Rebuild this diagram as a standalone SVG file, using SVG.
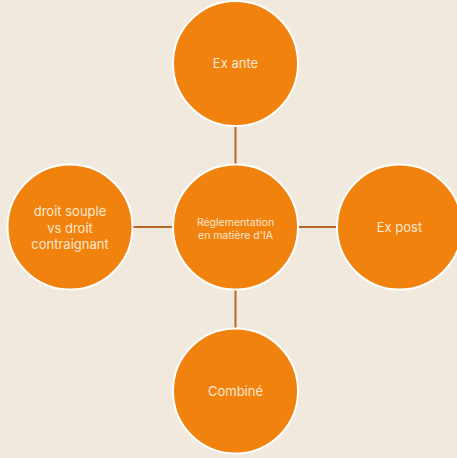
<svg xmlns="http://www.w3.org/2000/svg" width="457" height="458" viewBox="0 0 457 458">
<style>
.n{fill:#F0820D;stroke:#FFFFFF;stroke-width:2}
.t{fill:#FCE8D2;font-family:Inter,"Liberation Sans",sans-serif;font-size:13px;text-anchor:middle}
.s{font-size:10.5px}
.c{stroke:#B8672A;stroke-width:2;fill:none}
</style>
<rect width="457" height="458" fill="#F2E9DE"/>
<g id="connectors">
<line class="c" x1="235.5" y1="126" x2="235.5" y2="164.5"/>
<line class="c" x1="235.5" y1="289.5" x2="235.5" y2="328.5"/>
<line class="c" x1="132.5" y1="227" x2="173" y2="227"/>
<line class="c" x1="298" y1="227" x2="337" y2="227"/>
</g>
<g id="center">
<circle class="n" cx="235.5" cy="227" r="62.5"/>
<text class="t s" x="235.5" y="225.5">Réglementation</text>
<text class="t s" x="235.5" y="239">en matière d'IA</text>
</g>
<g id="top">
<circle class="n" cx="235.5" cy="63.5" r="62.5"/>
<text class="t" x="235.5" y="68">Ex ante</text>
</g>
<g id="bottom">
<circle class="n" cx="235.5" cy="391" r="62.5"/>
<text class="t" x="235.5" y="395.5">Combiné</text>
</g>
<g id="left">
<circle class="n" cx="70" cy="227" r="62.5"/>
<text class="t" x="70" y="216">droit souple</text>
<text class="t" x="70" y="232.5">vs droit</text>
<text class="t" x="70" y="248.5">contraignant</text>
</g>
<g id="right">
<circle class="n" cx="399.5" cy="227" r="62.5"/>
<text class="t" x="399.5" y="231.5">Ex post</text>
</g>
</svg>
